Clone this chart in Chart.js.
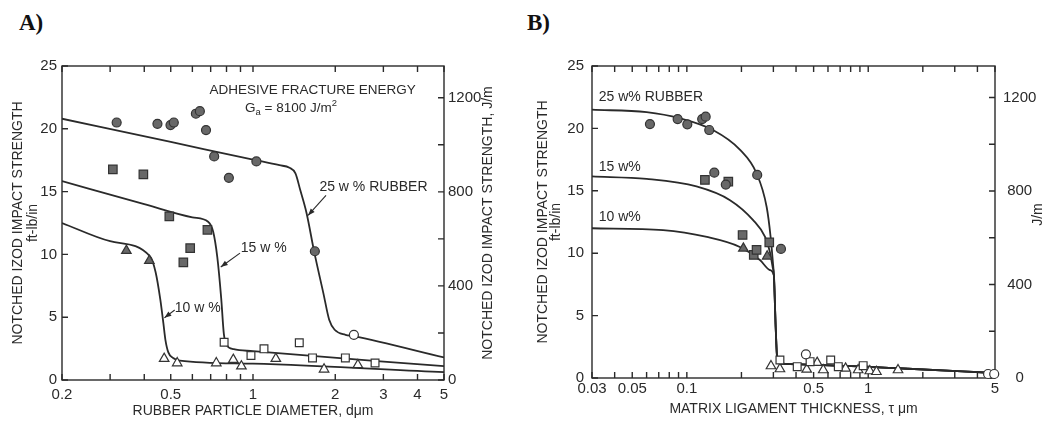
<!DOCTYPE html>
<html>
<head>
<meta charset="utf-8">
<script src="https://cdn.jsdelivr.net/npm/chart.js@4.4.1/dist/chart.umd.min.js"></script>
<style>
  html, body { margin: 0; padding: 0; background: #fff; }
  body { width: 1056px; height: 423px; position: relative; overflow: hidden; }
  .panel { position: absolute; top: 0; width: 528px; height: 423px; }
  #panelA { left: 0; }
  #panelB { left: 528px; }
  .tag { position: absolute; top: 11px; font: bold 23px/23px "Liberation Serif", serif; color: #111; }
</style>
</head>
<body>
<div class="tag" style="left:19px">A)</div>
<div class="tag" style="left:527px">B)</div>
<div class="panel" id="panelA"><canvas id="chartA" width="528" height="423"></canvas></div>
<div class="panel" id="panelB"><canvas id="chartB" width="528" height="423"></canvas></div>
<script>
const INK = '#2a2a2a';
const FACE = '"Liberation Sans", Arial, sans-serif';
const FT_TO_J = 53.4;

// ---- A: impact strength vs rubber particle diameter (um) ----
const diamTicks = [0.2, 0.3, 0.4, 0.5, 0.6, 0.7, 0.8, 0.9, 1, 2, 3, 4, 5];
const diamLabels = ['0.2', '', '', '0.5', '', '', '', '', '1', '2', '3', '4', '5'];

const fitA25x = [0.2, 0.5, 1.0, 1.25, 1.36, 1.43, 1.49, 1.57, 1.675, 1.81, 1.9, 1.99, 2.18, 2.33, 5];
const fitA25y = [20.8, 18.95, 17.55, 17.1, 16.9, 16.45, 15.1, 13.3, 10.2, 6.9, 4.8, 4.0, 3.6, 3.5, 1.8];
const fitA15x = [0.2, 0.4, 0.6, 0.685, 0.715, 0.74, 0.765, 0.782, 0.8, 0.85, 1.0, 5];
const fitA15y = [15.84, 14.0, 12.95, 12.6, 11.8, 9.8, 6.5, 3.7, 2.8, 2.45, 2.3, 1.1];
const fitA10x = [0.2, 0.3, 0.42, 0.44, 0.458, 0.47, 0.478, 0.49, 0.51, 0.54, 1.0, 5];
const fitA10y = [12.5, 11.05, 9.85, 8.6, 6.4, 4.5, 3.2, 2.2, 1.75, 1.55, 1.3, 0.62];

const a25FilledX = [0.317, 0.447, 0.499, 0.513, 0.618, 0.639, 0.673, 0.721, 0.816, 1.029, 1.684];
const a25FilledY = [20.5, 20.4, 20.3, 20.5, 21.2, 21.4, 19.9, 17.8, 16.1, 17.4, 10.25];
const a25OpenX = [2.34];
const a25OpenY = [3.6];
const a15FilledX = [0.307, 0.397, 0.494, 0.681, 0.589, 0.556];
const a15FilledY = [16.77, 16.37, 13.03, 11.96, 10.5, 9.37];
const a15OpenX = [0.784, 0.983, 1.097, 1.477, 1.651, 2.178, 2.797];
const a15OpenY = [3.0, 1.95, 2.48, 2.96, 1.76, 1.76, 1.36];
const a10FilledX = [0.344, 0.4175];
const a10FilledY = [10.3, 9.5];
const a10OpenX = [0.473, 0.528, 0.734, 0.847, 0.907, 1.212, 1.82, 2.42];
const a10OpenY = [1.7, 1.35, 1.35, 1.62, 1.1, 1.7, 0.85, 1.2];

// ---- B: impact strength vs matrix ligament thickness (um) ----
const ligTicks = [0.03, 0.04, 0.05, 0.06, 0.07, 0.08, 0.09, 0.1, 0.2, 0.3, 0.4, 0.5, 0.6, 0.7, 0.8, 0.9, 1, 2, 3, 4, 5];
const ligLabels = ['0.03', '', '0.05', '', '', '', '', '0.1', '', '', '', '0.5', '', '', '', '', '1', '', '', '', '5'];

// brittle branch shared by the three fits
const fitBTailX = [0.309, 0.316, 0.33, 0.98, 1.46, 5];
const fitBTailY = [4.0, 1.3, 1.15, 0.9, 0.78, 0.4];
const fitB25x = [0.03, 0.06, 0.0917, 0.14, 0.196, 0.2423, 0.2755, 0.2897, 0.298, 0.302];
const fitB25y = [21.5, 21.3, 20.8, 19.85, 18.3, 16.4, 13.7, 11.3, 9.3, 8.2];
const fitB15x = [0.03, 0.06, 0.113, 0.173, 0.232, 0.27, 0.287, 0.297, 0.302];
const fitB15y = [16.15, 15.95, 15.35, 14.25, 12.65, 11.3, 10.1, 8.9, 8.2];
const fitB10x = [0.03, 0.074, 0.129, 0.196, 0.253, 0.287, 0.302];
const fitB10y = [12.0, 11.85, 11.3, 10.5, 9.45, 8.65, 8.2];

const b25FilledX = [0.0626, 0.089, 0.1006, 0.1215, 0.127, 0.1329, 0.2443, 0.3303, 0.1417, 0.164];
const b25FilledY = [20.35, 20.75, 20.33, 20.75, 20.94, 19.87, 16.27, 10.34, 16.45, 15.5];
const b25OpenX = [0.4535, 4.58, 4.95];
const b25OpenY = [1.9, 0.32, 0.32];
const b15FilledX = [0.1258, 0.1693, 0.2029, 0.2338, 0.2423, 0.2847];
const b15FilledY = [15.87, 15.73, 11.46, 9.86, 10.26, 10.87];
const b15OpenX = [0.326, 0.406, 0.478, 0.621, 0.684, 0.938];
const b15OpenY = [1.44, 0.91, 1.31, 1.44, 0.91, 0.99];
const b10FilledX = [0.2049, 0.2773];
const b10FilledY = [10.39, 9.75];
const b10OpenX = [0.291, 0.326, 0.458, 0.523, 0.565, 0.75, 0.88, 1.02, 1.11, 1.46];
const b10OpenY = [0.96, 0.72, 0.69, 1.23, 0.64, 0.77, 0.64, 0.56, 0.5, 0.64];

const ftTicks = [0, 5, 10, 15, 20, 25];
const jTicks = [0, 200, 400, 600, 800, 1000, 1200];
const jLabels = ['0', '', '400', '', '800', '', '1200'];

const pts = (xs, ys) => xs.map((x, i) => ({ x, y: ys[i] }));

const fitLine = (xs, ys) => ({
  type: 'line', data: pts(xs, ys), borderColor: INK, borderWidth: 1.8,
  pointRadius: 0, cubicInterpolationMode: 'monotone', fill: false, order: 2
});

const marks = (xs, ys, style, filled, r) => ({
  type: 'scatter', data: pts(xs, ys), pointStyle: style, pointRadius: r, pointHoverRadius: r,
  backgroundColor: filled ? '#686868' : '#ffffff', borderColor: '#333', borderWidth: 1.2,
  clip: false, order: 1
});

function arrow(ctx, x1, y1, x2, y2) {
  ctx.beginPath();
  ctx.moveTo(x1, y1);
  ctx.lineTo(x2, y2);
  ctx.stroke();
  const a = Math.atan2(y2 - y1, x2 - x1), L = 7, W = 2.6;
  ctx.beginPath();
  ctx.moveTo(x2, y2);
  ctx.lineTo(x2 - L * Math.cos(a) + W * Math.sin(a), y2 - L * Math.sin(a) - W * Math.cos(a));
  ctx.lineTo(x2 - L * Math.cos(a) - W * Math.sin(a), y2 - L * Math.sin(a) + W * Math.cos(a));
  ctx.closePath();
  ctx.fill();
}

// frame with inward ticks, labels and arrows, right-hand title read bottom-up
function paperFor(cfg) {
  return {
    id: 'paper',
    beforeDatasetsDraw(chart) {
      const { ctx, chartArea: a, scales } = chart;
      const len = 6;
      ctx.save();
      ctx.strokeStyle = INK;
      ctx.lineWidth = 1.4;
      ctx.strokeRect(a.left, a.top, a.right - a.left, a.bottom - a.top);
      ctx.beginPath();
      scales.x.ticks.forEach(t => {
        const px = scales.x.getPixelForValue(t.value);
        ctx.moveTo(px, a.bottom); ctx.lineTo(px, a.bottom - len);
        ctx.moveTo(px, a.top); ctx.lineTo(px, a.top + len);
      });
      scales.y.ticks.forEach(t => {
        const py = scales.y.getPixelForValue(t.value);
        ctx.moveTo(a.left, py); ctx.lineTo(a.left + len, py);
      });
      scales.yJ.ticks.forEach(t => {
        const py = scales.yJ.getPixelForValue(t.value);
        ctx.moveTo(a.right, py); ctx.lineTo(a.right - len, py);
      });
      ctx.stroke();
      ctx.restore();
    },
    afterDatasetsDraw(chart) {
      const { ctx, scales } = chart;
      const X = v => scales.x.getPixelForValue(v);
      const Y = v => scales.y.getPixelForValue(v);
      ctx.save();
      ctx.fillStyle = INK;
      ctx.strokeStyle = INK;
      ctx.lineWidth = 1.1;
      ctx.textBaseline = 'middle';
      ctx.textAlign = 'left';
      cfg.notes.forEach(n => {
        let x = X(n.x);
        const y = Y(n.y);
        n.parts.forEach(p => {
          const size = p.shift ? n.size * 0.7 : n.size;
          ctx.font = size + 'px ' + FACE;
          ctx.fillText(p.t, x, y + (p.shift || 0));
          x += ctx.measureText(p.t).width;
        });
      });
      cfg.arrows.forEach(r => arrow(ctx, X(r.from[0]), Y(r.from[1]), X(r.to[0]), Y(r.to[1])));
      const rt = cfg.rightTitle;
      ctx.font = rt.size + 'px ' + FACE;
      ctx.textAlign = 'center';
      ctx.translate(scales.yJ.left + rt.offset, Y(rt.at));
      ctx.rotate(-Math.PI / 2);
      ctx.fillText(rt.text, 0, 0);
      ctx.restore();
    }
  };
}

function makePanel(id, p) {
  const tickFont = { family: FACE, size: 15 };
  const titleFont = { family: FACE, size: 14 };
  return new Chart(document.getElementById(id), {
    type: 'scatter',
    data: { datasets: p.datasets },
    plugins: [paperFor(p.paper)],
    options: {
      responsive: false,
      animation: false,
      events: [],
      layout: { padding: { top: 66, left: 0, right: 0, bottom: 0 } },
      plugins: { legend: { display: false }, tooltip: { enabled: false } },
      scales: {
        x: {
          type: 'logarithmic', position: 'bottom', min: p.xTicks[0], max: p.xTicks[p.xTicks.length - 1],
          afterBuildTicks: s => { s.ticks = p.xTicks.map(v => ({ value: v })); },
          afterFit: s => { s.height = p.xAxisHeight; },
          grid: { display: false, drawTicks: false },
          border: { display: false },
          ticks: {
            autoSkip: false, maxRotation: 0, minRotation: 0, padding: p.xPad,
            font: tickFont, color: INK, callback: (v, i) => p.xLabels[i]
          },
          title: { display: true, text: p.xTitle, font: titleFont, color: INK, padding: { top: 0, bottom: p.xTitlePad } }
        },
        y: {
          type: 'linear', position: 'left', min: 0, max: 25,
          afterBuildTicks: s => { s.ticks = ftTicks.map(v => ({ value: v })); },
          afterFit: s => { s.width = p.leftWidth; },
          grid: { display: false, drawTicks: false },
          border: { display: false },
          ticks: { padding: p.yPad, font: tickFont, color: INK, callback: v => String(v) },
          title: {
            display: true, text: ['NOTCHED IZOD IMPACT STRENGTH', 'ft-lb/in'],
            font: { family: FACE, size: 14, lineHeight: p.yTitleLine + 'px' }, color: INK,
            padding: { top: p.yTitlePad, bottom: 0 }
          }
        },
        yJ: {
          type: 'linear', position: 'right', min: 0, max: 25 * FT_TO_J,
          afterBuildTicks: s => { s.ticks = jTicks.map(v => ({ value: v })); },
          afterFit: s => { s.width = p.rightWidth; },
          grid: { display: false, drawTicks: false },
          border: { display: false },
          ticks: {
            padding: p.jPad, crossAlign: p.jAlign, font: tickFont, color: INK,
            callback: (v, i) => jLabels[i]
          }
        }
      }
    }
  });
}

makePanel('chartA', {
  xTicks: diamTicks, xLabels: diamLabels, xTitle: 'RUBBER PARTICLE DIAMETER, d\u03bcm',
  xAxisHeight: 43, xPad: 6, xTitlePad: 3,
  leftWidth: 62, yPad: 5, yTitleLine: 15, yTitlePad: 11,
  rightWidth: 84, jPad: 4, jAlign: 'near',
  datasets: [
    marks(a25FilledX, a25FilledY, 'circle', true, 4.5),
    marks(a25OpenX, a25OpenY, 'circle', false, 4.5),
    marks(a15FilledX, a15FilledY, 'rect', true, 6),
    marks(a15OpenX, a15OpenY, 'rect', false, 5.5),
    marks(a10FilledX, a10FilledY, 'triangle', true, 5.5),
    marks(a10OpenX, a10OpenY, 'triangle', false, 5.5),
    fitLine(fitA25x, fitA25y),
    fitLine(fitA15x, fitA15y),
    fitLine(fitA10x, fitA10y)
  ],
  paper: {
    notes: [
      { x: 0.693, y: 23.09, size: 13.5, parts: [{ t: 'ADHESIVE FRACTURE ENERGY' }] },
      { x: 0.935, y: 21.66, size: 13.5, parts: [{ t: 'G' }, { t: 'a', shift: 4 }, { t: ' = 8100 J/m' }, { t: '2', shift: -5 }] },
      { x: 1.75, y: 15.37, size: 14, parts: [{ t: '25 w % RUBBER' }] },
      { x: 0.902, y: 10.5, size: 14, parts: [{ t: '15 w %' }] },
      { x: 0.517, y: 5.73, size: 14, parts: [{ t: '10 w %' }] }
    ],
    arrows: [
      { from: [1.85, 14.7], to: [1.59, 13.1] },
      { from: [0.896, 10.1], to: [0.762, 9.0] },
      { from: [0.517, 5.57], to: [0.474, 4.95] }
    ],
    rightTitle: { text: 'NOTCHED IZOD IMPACT STRENGTH, J/m', size: 14, offset: 44.5, at: 12.5 }
  }
});

makePanel('chartB', {
  xTicks: ligTicks, xLabels: ligLabels, xTitle: 'MATRIX LIGAMENT THICKNESS, \u03c4 \u03bcm',
  xAxisHeight: 45, xPad: 2, xTitlePad: 5,
  leftWidth: 64, yPad: 8, yTitleLine: 13, yTitlePad: 8.5,
  rightWidth: 61, jPad: 8, jAlign: 'center',
  datasets: [
    marks(b25FilledX, b25FilledY, 'circle', true, 4.5),
    marks(b25OpenX, b25OpenY, 'circle', false, 4.5),
    marks(b15FilledX, b15FilledY, 'rect', true, 6),
    marks(b15OpenX, b15OpenY, 'rect', false, 5.5),
    marks(b10FilledX, b10FilledY, 'triangle', true, 5.5),
    marks(b10OpenX, b10OpenY, 'triangle', false, 5.5),
    fitLine(fitB25x.concat(fitBTailX), fitB25y.concat(fitBTailY)),
    fitLine(fitB15x.concat(fitBTailX), fitB15y.concat(fitBTailY)),
    fitLine(fitB10x.concat(fitBTailX), fitB10y.concat(fitBTailY))
  ],
  paper: {
    notes: [
      { x: 0.0327, y: 22.5, size: 14, parts: [{ t: '25 w% RUBBER' }] },
      { x: 0.0327, y: 16.9, size: 14, parts: [{ t: '15 w%' }] },
      { x: 0.0327, y: 12.9, size: 14, parts: [{ t: '10 w%' }] }
    ],
    arrows: [],
    rightTitle: { text: 'J/m', size: 14, offset: 43, at: 13.1 }
  }
});
</script>
</body>
</html>
